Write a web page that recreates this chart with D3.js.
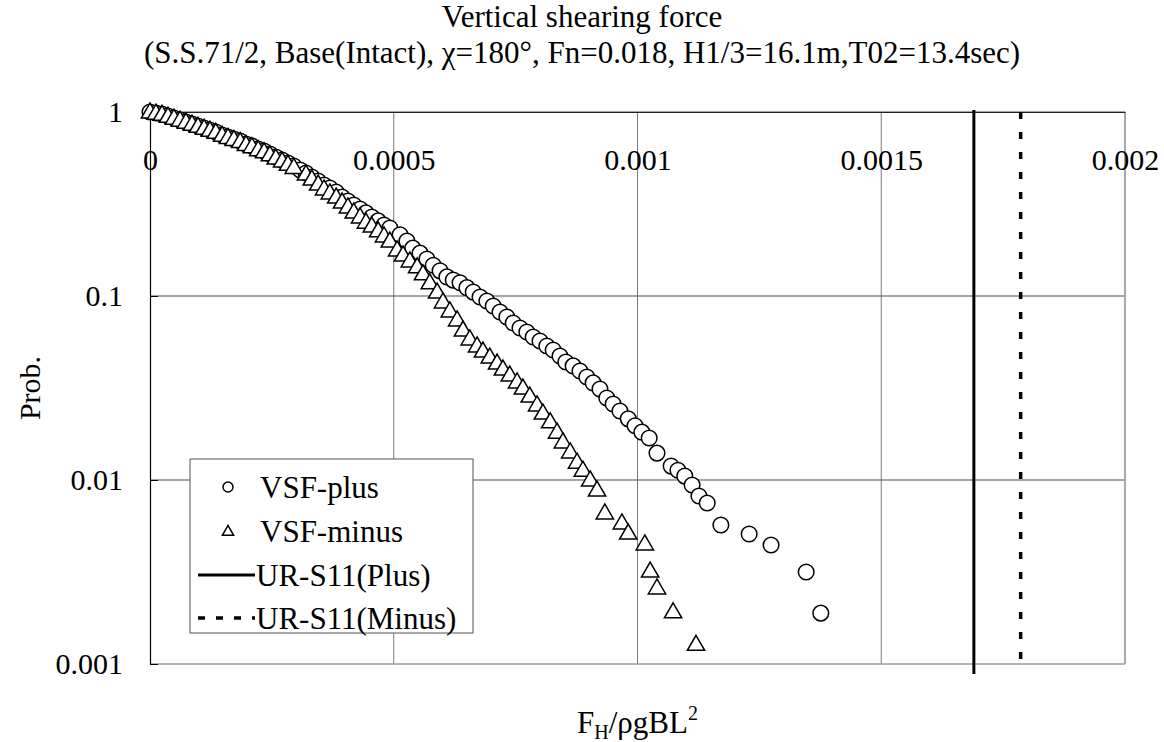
<!DOCTYPE html>
<html>
<head>
<meta charset="utf-8">
<script src="https://cdn.jsdelivr.net/npm/d3@7"></script>
<style>
body { margin: 0; background: #fff; }
svg text { font-family: "Liberation Serif", "Times New Roman", serif; fill: #000; }
</style>
</head>
<body>
<div id="chart"></div>
<script>
// tick values and labels
const xTicks = [0, 0.0005, 0.001, 0.0015, 0.002];
const xTickLabels = ["0", "0.0005", "0.001", "0.0015", "0.002"];
const yTicks = [1, 0.1, 0.01, 0.001];
const yTickLabels = ["1", "0.1", "0.01", "0.001"];

// VSF-plus : [F_H/rgBL^2, exceedance prob.]
const vsfPlus = [
  [0, 1.0], [0.0000123, 0.988], [0.0000246, 0.975], [0.0000369, 0.951], [0.0000492, 0.928],
  [0.0000615, 0.905], [0.0000738, 0.883], [0.0000862, 0.861], [0.0000985, 0.839], [0.000111, 0.819],
  [0.000123, 0.799], [0.000135, 0.779], [0.000148, 0.750], [0.000160, 0.731], [0.000172, 0.713],
  [0.000185, 0.696], [0.000197, 0.670], [0.000209, 0.654], [0.000222, 0.629], [0.000234, 0.614],
  [0.000246, 0.591], [0.000258, 0.569], [0.000271, 0.548], [0.000283, 0.528], [0.000295, 0.509],
  [0.000308, 0.484], [0.000320, 0.466], [0.000332, 0.443], [0.000345, 0.422], [0.000357, 0.401],
  [0.000369, 0.386], [0.000382, 0.367], [0.000394, 0.345], [0.000406, 0.328], [0.000418, 0.312],
  [0.000431, 0.297], [0.000443, 0.283], [0.000455, 0.269], [0.000468, 0.256], [0.000480, 0.243],
  [0.000492, 0.234], [0.000513, 0.215], [0.000527, 0.199], [0.000539, 0.182], [0.000554, 0.171],
  [0.000568, 0.159], [0.000581, 0.147], [0.000595, 0.137], [0.000609, 0.127], [0.000622, 0.122],
  [0.000636, 0.118], [0.000650, 0.111], [0.000663, 0.105], [0.000677, 0.0988], [0.000691, 0.0939],
  [0.000704, 0.0882], [0.000718, 0.0819], [0.000732, 0.0769], [0.000745, 0.0713], [0.000759, 0.0670],
  [0.000773, 0.0637], [0.000786, 0.0599], [0.000800, 0.0569], [0.000814, 0.0535], [0.000827, 0.0509],
  [0.000841, 0.0472], [0.000853, 0.0438], [0.000868, 0.0417], [0.000882, 0.0391], [0.000896, 0.0363],
  [0.000909, 0.0337], [0.000923, 0.0312], [0.000937, 0.0279], [0.000950, 0.0259], [0.000964, 0.0237],
  [0.000981, 0.0215], [0.000995, 0.0197], [0.001009, 0.0182], [0.001024, 0.0169], [0.001040, 0.0140],
  [0.001069, 0.0119], [0.001083, 0.0113], [0.001097, 0.0105], [0.001112, 0.00939], [0.001126, 0.00819],
  [0.001143, 0.00750], [0.001171, 0.00569], [0.001229, 0.00509], [0.001274, 0.00443], [0.001346, 0.00316],
  [0.001376, 0.00189]
];

// VSF-minus
const vsfMinus = [
  [0, 1.0], [0.0000123, 0.985], [0.0000246, 0.972], [0.0000369, 0.948], [0.0000492, 0.925],
  [0.0000615, 0.902], [0.0000738, 0.880], [0.0000862, 0.858], [0.0000985, 0.836], [0.000111, 0.815],
  [0.000123, 0.795], [0.000135, 0.775], [0.000148, 0.747], [0.000160, 0.727], [0.000172, 0.709],
  [0.000185, 0.691], [0.000197, 0.665], [0.000209, 0.648], [0.000222, 0.624], [0.000234, 0.608],
  [0.000246, 0.585], [0.000258, 0.562], [0.000271, 0.541], [0.000283, 0.520], [0.000295, 0.500],
  [0.000320, 0.460], [0.000332, 0.432], [0.000345, 0.406], [0.000357, 0.382], [0.000369, 0.363],
  [0.000382, 0.345], [0.000394, 0.324], [0.000406, 0.305], [0.000418, 0.286], [0.000431, 0.269],
  [0.000443, 0.252], [0.000455, 0.240], [0.000468, 0.226], [0.000480, 0.212], [0.000492, 0.199],
  [0.000507, 0.178], [0.000519, 0.167], [0.000533, 0.155], [0.000548, 0.144], [0.000560, 0.132],
  [0.000574, 0.118], [0.000589, 0.105], [0.000601, 0.0928], [0.000615, 0.0829], [0.000630, 0.0741],
  [0.000642, 0.0653], [0.000656, 0.0584], [0.000671, 0.0535], [0.000683, 0.0502], [0.000697, 0.0466],
  [0.000712, 0.0432], [0.000724, 0.0401], [0.000738, 0.0372], [0.000753, 0.0341], [0.000765, 0.0316],
  [0.000779, 0.0286], [0.000794, 0.0256], [0.000806, 0.0231], [0.000821, 0.0207], [0.000835, 0.0182],
  [0.000847, 0.0161], [0.000862, 0.0142], [0.000876, 0.0125], [0.000888, 0.0113], [0.000903, 0.0100],
  [0.000917, 0.00882], [0.000933, 0.00662], [0.000968, 0.00584], [0.000981, 0.00515], [0.001015, 0.00449],
  [0.001026, 0.00320], [0.001040, 0.00259], [0.001073, 0.00192], [0.001120, 0.00128]
];

// UR-S11 design values
const urS11Plus = 0.00169;
const urS11Minus = 0.001786;

const legendLabels = ["VSF-plus", "VSF-minus", "UR-S11(Plus)", "UR-S11(Minus)"];

const W = 1164, H = 742;
const plot = {left: 150, right: 1125, top: 112, bottom: 664};
const fontSize = 30;
const serif = "'Liberation Serif', 'Times New Roman', serif";

const svg = d3.select("#chart")
    .append("svg")
    .attr("width", W)
    .attr("height", H);

const xScale = d3.scaleLinear()
    .domain([0, 0.002])
    .range([plot.left, plot.right]);

const yScale = d3.scaleLog()
    .domain([0.001, 1])
    .range([plot.bottom, plot.top]);

// gridlines
svg.append("g").selectAll("line")
    .data(xTicks.slice(1, -1))
    .join("line")
    .attr("x1", d => xScale(d)).attr("x2", d => xScale(d))
    .attr("y1", plot.top).attr("y2", plot.bottom)
    .attr("stroke", "#7a7a7a").attr("stroke-width", 1);

svg.append("g").selectAll("line")
    .data(yTicks.slice(0, -1))
    .join("line")
    .attr("x1", plot.left).attr("x2", plot.right)
    .attr("y1", d => yScale(d)).attr("y2", d => yScale(d))
    .attr("stroke", "#4a4a4a").attr("stroke-width", 1);

// frame: right and bottom are lighter
svg.append("line")
    .attr("x1", plot.right).attr("x2", plot.right)
    .attr("y1", plot.top).attr("y2", plot.bottom)
    .attr("stroke", "#8c8c8c").attr("stroke-width", 1.5);
svg.append("line")
    .attr("x1", plot.left).attr("x2", plot.right)
    .attr("y1", plot.bottom).attr("y2", plot.bottom)
    .attr("stroke", "#9a9a9a").attr("stroke-width", 1.5);

// y axis (labels outside, short ticks inside)
const yAxis = d3.axisLeft(yScale)
    .tickValues(yTicks)
    .tickFormat((d, i) => yTickLabels[i])
    .tickSizeInner(-8)
    .tickSizeOuter(0)
    .tickPadding(27);

const gy = svg.append("g")
    .attr("transform", "translate(" + plot.left + ",0)")
    .call(yAxis)
    .attr("font-family", serif);
gy.select(".domain").attr("stroke", "#000").attr("stroke-width", 1.2);
gy.selectAll(".tick line").attr("stroke", "#000");
gy.selectAll("text")
    .style("font-family", serif)
    .attr("font-size", fontSize);

// x axis labels sit inside the plot under the top line
const xAxis = d3.axisBottom(xScale)
    .tickValues(xTicks)
    .tickFormat((d, i) => xTickLabels[i])
    .tickSize(0)
    .tickPadding(37);

const gx = svg.append("g")
    .attr("transform", "translate(0," + plot.top + ")")
    .call(xAxis)
    .attr("font-family", serif);
gx.select(".domain").attr("stroke", "#222").attr("stroke-width", 1.2);
gx.selectAll("text")
    .style("font-family", serif)
    .attr("font-size", fontSize);

// UR-S11 lines
svg.append("line")
    .attr("x1", xScale(urS11Plus)).attr("x2", xScale(urS11Plus))
    .attr("y1", plot.top - 2).attr("y2", plot.bottom + 10)
    .attr("stroke", "#000").attr("stroke-width", 3);

svg.append("line")
    .attr("x1", xScale(urS11Minus)).attr("x2", xScale(urS11Minus))
    .attr("y1", plot.top).attr("y2", plot.bottom)
    .attr("stroke", "#000").attr("stroke-width", 3.5)
    .attr("stroke-dasharray", "7,13");

// markers
svg.append("g").selectAll("circle")
    .data(vsfPlus)
    .join("circle")
    .attr("cx", d => xScale(d[0]))
    .attr("cy", d => yScale(d[1]))
    .attr("r", 7.8)
    .attr("fill", "#fff")
    .attr("stroke", "#000")
    .attr("stroke-width", 1.5);

const tri = d3.symbol().type(d3.symbolTriangle).size(130);

svg.append("g").selectAll("path")
    .data(vsfMinus)
    .join("path")
    .attr("d", tri)
    .attr("transform", d => "translate(" + xScale(d[0]) + "," + (yScale(d[1]) + 1) + ")")
    .attr("fill", "#fff")
    .attr("stroke", "#000")
    .attr("stroke-width", 1.5);

// legend
const lg = svg.append("g");
lg.append("rect")
    .attr("x", 190).attr("y", 459)
    .attr("width", 283).attr("height", 174)
    .attr("fill", "#fff")
    .attr("stroke", "#555").attr("stroke-width", 1);

const rowY = [487, 531, 575, 618];

lg.selectAll("text")
    .data(legendLabels)
    .join("text")
    .attr("x", (d, i) => i < 2 ? 260 : 256)
    .attr("y", (d, i) => rowY[i])
    .attr("dy", "0.35em")
    .attr("font-size", 31)
    .text(d => d);

lg.append("circle")
    .attr("cx", 228).attr("cy", rowY[0]).attr("r", 5)
    .attr("fill", "#fff").attr("stroke", "#000").attr("stroke-width", 1.5);
lg.append("path")
    .attr("d", d3.symbol().type(d3.symbolTriangle).size(55))
    .attr("transform", "translate(228," + (rowY[1] + 1) + ")")
    .attr("fill", "#fff").attr("stroke", "#000").attr("stroke-width", 1.5);
lg.append("line")
    .attr("x1", 198).attr("x2", 255)
    .attr("y1", rowY[2]).attr("y2", rowY[2])
    .attr("stroke", "#000").attr("stroke-width", 3);
lg.append("line")
    .attr("x1", 198).attr("x2", 255)
    .attr("y1", rowY[3]).attr("y2", rowY[3])
    .attr("stroke", "#000").attr("stroke-width", 3.5)
    .attr("stroke-dasharray", "7,11");

// titles
svg.append("text")
    .attr("x", 582).attr("y", 27)
    .attr("text-anchor", "middle")
    .attr("font-size", 31)
    .text("Vertical shearing force");

svg.append("text")
    .attr("x", 582).attr("y", 63)
    .attr("text-anchor", "middle")
    .attr("font-size", 31)
    .text("(S.S.71/2, Base(Intact), \u03C7=180\u00B0, Fn=0.018, H1/3=16.1m,T02=13.4sec)");

// axis titles
svg.append("text")
    .attr("transform", "translate(40," + ((plot.top + plot.bottom) / 2) + ") rotate(-90)")
    .attr("text-anchor", "middle")
    .attr("font-size", fontSize)
    .text("Prob.");

const xt = svg.append("text")
    .attr("x", (plot.left + plot.right) / 2)
    .attr("y", 733)
    .attr("text-anchor", "middle")
    .attr("font-size", 31);
xt.append("tspan").text("F");
xt.append("tspan").attr("font-size", 20).attr("dy", 6).text("H");
xt.append("tspan").attr("dy", -6).text("/\u03C1gBL");
xt.append("tspan").attr("font-size", 20).attr("dy", -13).text("2");
</script>
</body>
</html>
